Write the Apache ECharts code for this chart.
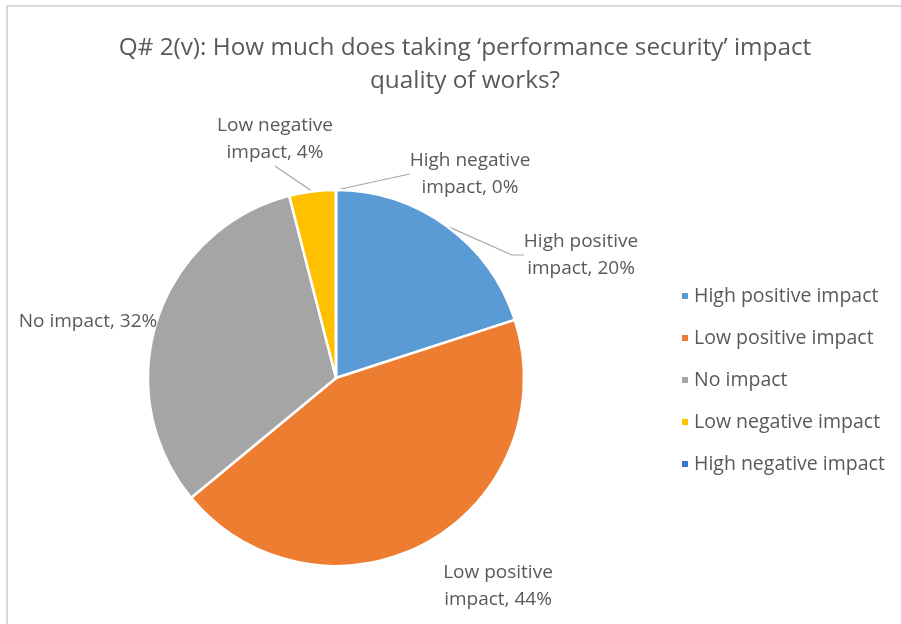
<!DOCTYPE html>
<html>
<head>
<meta charset="utf-8">
<script src="https://cdn.jsdelivr.net/npm/echarts@6/dist/echarts.min.js"></script>
<style>
  html, body { margin: 0; padding: 0; background: #fff; }
  #chart { width: 901px; height: 624px; }
</style>
</head>
<body>
<div id="chart"></div>
<script>
// Survey answers (share of respondents, %)
const categories = [
  'High positive impact',
  'Low positive impact',
  'No impact',
  'Low negative impact',
  'High negative impact'
];
const shares = [20, 44, 32, 4, 0];
const sliceColors = ['#5B9BD5', '#ED7D31', '#A5A5A5', '#FFC000', '#4472C4'];
const titleLines = [
  'Q# 2(v): How much does taking \u2018performance security\u2019 impact',
  'quality of works?'
];

// Where each data label sits (centre of the text block, px) and its leader line
const labelSpots = {
  'High positive impact': { x: 581, y: 255, line: true, len: 10, len2: 12 },
  'Low positive impact': { x: 498, y: 586, line: false, len: 10, len2: 10 },
  'No impact': { x: 88, y: 322, line: false, len: 10, len2: 10 },
  'Low negative impact': { x: 275, y: 139, line: true, len: 12, len2: 0 },
  'High negative impact': { x: 470, y: 174, line: true, len: 12, len2: 0 }
};

const FONT = '"Open Sans"';
const TEXT = '#595959';

function labelText(p) {
  const words = p.name.split(' ');
  const head = words.length > 2 ? words.slice(0, -1).join(' ') + '\n' + words[words.length - 1] : p.name;
  return head + ', ' + Math.round(p.percent) + '%';
}

const chart = echarts.init(document.getElementById('chart'), null, { renderer: 'canvas' });

chart.setOption({
  backgroundColor: '#ffffff',
  animation: false,
  title: {
    text: titleLines.join('\n'),
    left: 460,
    textAlign: 'center',
    top: 27,
    textStyle: {
      fontFamily: FONT,
      fontSize: 24.3,
      fontWeight: 'normal',
      color: TEXT,
      lineHeight: 33
    }
  },
  legend: {
    orient: 'vertical',
    left: 675,
    top: 280,
    icon: 'rect',
    itemWidth: 8,
    itemHeight: 8,
    itemGap: 20,
    data: categories,
    textStyle: {
      fontFamily: FONT,
      fontSize: 19.5,
      color: TEXT,
      lineHeight: 22
    }
  },
  graphic: [{
    type: 'rect',
    shape: { x: 7, y: 6, width: 920, height: 640 },
    style: { fill: 'none', stroke: '#d9d9d9', lineWidth: 2 },
    silent: true,
    z: -1
  }],
  series: [{
    type: 'pie',
    center: [336, 378],
    radius: 188,
    startAngle: 90,
    clockwise: true,
    avoidLabelOverlap: false,
    stillShowZeroSum: true,
    itemStyle: { borderColor: '#ffffff', borderWidth: 2.5 },
    label: {
      show: true,
      position: 'outside',
      formatter: labelText,
      fontFamily: FONT,
      fontSize: 19,
      color: TEXT,
      lineHeight: 27,
      align: 'center'
    },
    labelLine: {
      show: true,
      lineStyle: { color: '#A6A6A6', width: 1.2 }
    },
    labelLayout: function (params) {
      const name = categories[params.dataIndex];
      const s = labelSpots[name];
      return { x: s.x, y: s.y, align: 'center', verticalAlign: 'middle' };
    },
    data: categories.map((name, i) => ({
      name: name,
      value: shares[i],
      itemStyle: { color: sliceColors[i] },
      labelLine: {
        show: labelSpots[name].line,
        length: labelSpots[name].len,
        length2: labelSpots[name].len2
      }
    }))
  }]
});
</script>
</body>
</html>
